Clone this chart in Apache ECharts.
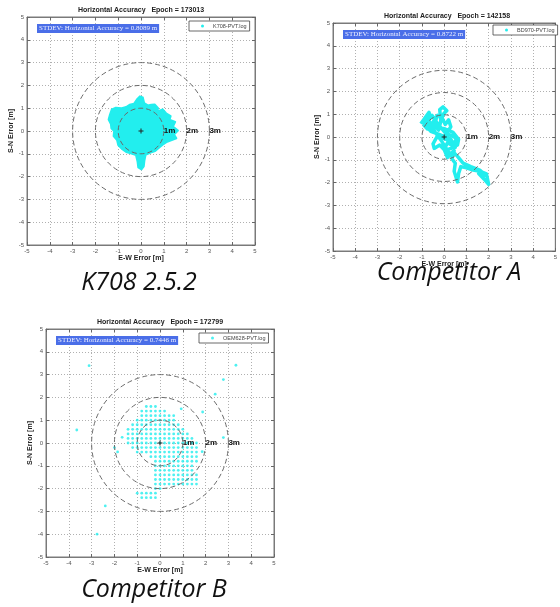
<!DOCTYPE html>
<html><head><meta charset="utf-8">
<script src="https://cdn.jsdelivr.net/npm/echarts/dist/echarts.min.js"></script>
<style>html,body{margin:0;padding:0;background:#fff}#c{width:560px;height:607px}</style>
</head><body><div id="c"></div><script>
// ---------- data ----------
const TICK_MIN = -5, TICK_MAX = 5, TICK_STEP = 1;
const RADII = [1, 2, 3];
const RADIUS_LABELS = ['1m', '2m', '3m'];
const TITLES = ['Horizontal Accuracy   Epoch = 173013', 'Horizontal Accuracy   Epoch = 142158', 'Horizontal Accuracy   Epoch = 172799'];
const STDEV_VALUES = ['0.8089', '0.8722', '0.7446'];
const LEGEND_NAMES = ['K708-PVT.log', 'BD970-PVT.log', 'OEM628-PVT.log'];
const CAPTIONS = ['K708 2.5.2', 'Competitor A', 'Competitor B'];
const X_NAME = 'E-W Error [m]';
const Y_NAME = 'S-N Error [m]';

// K708: outline of the dense point cloud (m)
const K708_X = [-0.05,0.08,0.14,0.3,0.45,0.6,0.75,0.7,0.95,1.1,1.3,1.25,1.5,1.4,1.62,1.45,1.55,1.35,1.15,0.95,0.8,0.62,0.42,0.2,0.15,0.12,0.02,-0.12,-0.15,-0.22,-0.45,-0.65,-0.82,-1.0,-1.05,-1.2,-1.18,-1.3,-1.32,-1.42,-1.36,-1.28,-1.1,-0.85,-0.65,-0.5,-0.3,-0.18];
const K708_Y = [1.52,1.47,1.22,1.12,1.15,1.16,1.0,0.85,0.95,0.78,0.65,0.5,0.4,0.2,0.02,-0.15,-0.32,-0.4,-0.47,-0.6,-0.72,-0.88,-0.95,-1.05,-1.3,-1.55,-1.68,-1.6,-1.35,-1.05,-0.98,-0.92,-0.8,-0.62,-0.4,-0.22,0.0,0.12,0.3,0.5,0.72,0.95,1.02,1.0,1.05,1.15,1.2,1.38];

// BD970: trajectory (m)
const BD970_X = [-1.05,-0.85,-0.68,-0.62,-0.8,-0.6,-0.45,-0.3,-0.45,-0.25,-0.15,-0.2,-0.05,0.12,0.0,-0.1,0.05,0.2,0.3,0.1,0.35,0.55,0.45,0.2,-0.05,-0.3,-0.5,-0.45,-0.2,0.05,0.3,0.6,0.65,0.4,0.05,-0.35,-0.75,-0.9,-0.7,-0.4,-0.1,0.25,0.45,0.35,0.5,0.45,0.6,0.65,0.75,1.0,1.3,1.6,1.9,1.95,2.0,1.8,1.55,1.9,1.6,1.2,0.85,0.6,0.4,0.15,0.0,0.15,0.5,0.3,-0.2,-0.6,-0.95,-0.55,-0.3,0.2];
const BD970_Y = [0.58,0.85,1.08,0.85,0.62,0.45,0.75,0.95,0.55,0.3,0.7,1.2,1.32,1.15,1.05,0.85,0.55,0.75,0.45,0.15,0.05,-0.05,-0.3,-0.15,-0.05,0.05,-0.3,-0.5,-0.35,-0.6,-0.5,-0.35,-0.1,0.2,0.35,0.45,0.35,0.5,0.75,0.2,-0.2,-0.75,-0.6,-0.95,-1.15,-1.5,-1.97,-1.6,-1.3,-1.35,-1.45,-1.5,-1.62,-1.85,-2.08,-1.85,-1.6,-1.7,-1.45,-1.3,-1.15,-0.85,-0.65,-0.9,-0.55,-0.25,-0.45,-0.1,0.1,0.25,0.65,0.95,0.6,0.0];

// OEM628: quantised cloud, one string per row; '#' marks a point.
const OEM_COL_X = [-1.4,-1.2,-1.0,-0.8,-0.6,-0.4,-0.2,0.0,0.2,0.4,0.6,0.8,1.0,1.2,1.4,1.6,1.8];
const OEM_ROW_Y = [1.6,1.4,1.2,1.0,0.8,0.6,0.4,0.2,0.0,-0.2,-0.4,-0.6,-0.8,-1.0,-1.2,-1.4,-1.6,-1.8,-2.0,-2.2,-2.4];
const OEM_ROWS = [
  '....###..........',
  '...######........',
  '...########......',
  '..#########......',
  '.###########.....',
  '#############....',
  '##############...',
  '###############..',
  '################.',
  '.###############.',
  '..##############.',
  '.....###########.',
  '......##########.',
  '......#########..',
  '......#########..',
  '......##########.',
  '......##########.',
  '......##########.',
  '......##.........',
  '..#####..........',
  '...####..........'
];
const OEM_OUT_X = [-3.11,-3.65,-2.4,-2.76,-2.0,-1.86,-1.66,3.33,2.78,2.42,1.87,0.93,2.78,1.85];
const OEM_OUT_Y = [3.39,0.57,-2.76,-4.0,-0.2,-0.39,0.25,3.41,2.78,2.14,1.36,1.5,0.24,-0.38];

// ---------- layout ----------
const CYAN = '#22eeee';
const FONT = '"Liberation Sans", Arial, sans-serif';
const SIZE = 228;
const PANELS = [
  {left: 27, top: 17, legendLeft: 189, legendTop: 21, cap: [139, 283]},
  {left: 333, top: 23, legendLeft: 493, legendTop: 25, cap: [449, 273]},
  {left: 46, top: 329, legendLeft: 199, legendTop: 333, cap: [154, 590]}
];

const grids = [], xAxes = [], yAxes = [], series = [], legends = [], graphics = [];
PANELS.forEach((p, i) => {
  grids.push({left: p.left, top: p.top, width: SIZE, height: SIZE, show: true,
    borderColor: '#7a7a7a', borderWidth: 1, backgroundColor: '#fff'});
  const common = {type: 'value', min: TICK_MIN, max: TICK_MAX, interval: TICK_STEP, gridIndex: i};
  const tick = {show: true, inside: true, length: 3, lineStyle: {color: '#666', width: 1}};
  const line = {show: true, onZero: false, lineStyle: {color: '#7a7a7a', width: 1}};
  const nameStyle = {fontSize: 7, fontWeight: 'bold', color: '#222', fontFamily: FONT};
  xAxes.push(Object.assign({}, common, {position: 'bottom', axisLine: line, axisTick: tick,
    axisLabel: {fontSize: 6, color: '#555', margin: 3, fontFamily: FONT},
    splitLine: {show: true, lineStyle: {color: '#b0b0b0', type: [1, 2], width: 1}},
    name: X_NAME, nameLocation: 'middle', nameGap: 10, nameTextStyle: nameStyle}));
  xAxes.push(Object.assign({}, common, {position: 'top', axisLine: line, axisTick: tick,
    axisLabel: {show: false}, splitLine: {show: false}}));
  yAxes.push(Object.assign({}, common, {position: 'left', axisLine: line, axisTick: tick,
    axisLabel: {fontSize: 6, color: '#555', margin: 3, fontFamily: FONT},
    splitLine: {show: true, lineStyle: {color: '#b0b0b0', type: [1, 2], width: 1}},
    name: Y_NAME, nameLocation: 'middle', nameGap: 9, nameRotate: 90, nameTextStyle: nameStyle}));
  yAxes.push(Object.assign({}, common, {position: 'right', axisLine: line, axisTick: tick,
    axisLabel: {show: false}, splitLine: {show: false}}));

  // reference circles, labels and centre cross
  series.push({type: 'custom', xAxisIndex: 2 * i, yAxisIndex: 2 * i, z: 5, silent: true,
    data: RADII.map((r, k) => [r, 0, k]),
    renderItem: (params, api) => {
      const c = api.coord([0, 0]);
      const e = api.coord([api.value(0), 0]);
      const k = api.value(2);
      const children = [
        {type: 'circle', shape: {cx: c[0], cy: c[1], r: e[0] - c[0]},
          style: {fill: 'none', stroke: '#6a6a6a', lineWidth: 1, lineDash: [5, 3]}},
        {type: 'text', x: e[0], y: c[1],
          style: {text: RADIUS_LABELS[k], font: 'bold 8px ' + FONT, fill: '#111', align: 'left', verticalAlign: 'middle'}}
      ];
      if (k === 0) {
        children.push({type: 'line', shape: {x1: c[0] - 2.5, y1: c[1], x2: c[0] + 2.5, y2: c[1]}, style: {stroke: '#222', lineWidth: 1}});
        children.push({type: 'line', shape: {x1: c[0], y1: c[1] - 2.5, x2: c[0], y2: c[1] + 2.5}, style: {stroke: '#222', lineWidth: 1}});
      }
      return {type: 'group', children};
    }});

  legends.push({data: [{name: LEGEND_NAMES[i], icon: 'circle'}], left: p.legendLeft, top: p.legendTop,
    itemWidth: 3, itemHeight: 3, selectedMode: false, padding: [2, 3, 2, 12],
    borderColor: '#444', borderWidth: 0.8, backgroundColor: '#fff', z: 20,
    textStyle: {fontSize: 5.5, color: '#444', fontFamily: FONT, padding: [0, 0, 0, 4]}});

  graphics.push({type: 'text', x: p.left + SIZE / 2, y: p.top - 7, z: 100,
    style: {text: TITLES[i], font: 'bold 7px ' + FONT, fill: '#222', align: 'center', verticalAlign: 'middle'}});
  graphics.push({type: 'text', x: p.left + 10, y: p.top + 7, z: 100,
    style: {text: 'STDEV: Horizontal Accuracy = ' + STDEV_VALUES[i] + ' m', font: '7px "Liberation Serif", serif',
      fill: '#eef0ff', backgroundColor: '#4a6ee8', padding: [1, 2], align: 'left', verticalAlign: 'top'}});
  graphics.push({type: 'text', x: p.cap[0], y: p.cap[1], z: 100,
    style: {text: CAPTIONS[i], font: 'italic 25px "Open Sans", sans-serif', fill: '#111', align: 'center', verticalAlign: 'middle'}});
});

// data series
series.push({name: LEGEND_NAMES[0], type: 'custom', xAxisIndex: 0, yAxisIndex: 0, z: 2,
  itemStyle: {color: CYAN}, data: [[0, 0]],
  renderItem: (params, api) => ({type: 'polygon',
    shape: {points: K708_X.map((x, j) => api.coord([x, K708_Y[j]]))},
    style: {fill: CYAN, stroke: CYAN, lineWidth: 2, lineJoin: 'round'}})});

series.push({name: LEGEND_NAMES[1], type: 'line', xAxisIndex: 2, yAxisIndex: 2, z: 2,
  data: BD970_X.map((x, j) => [x, BD970_Y[j]]), showSymbol: false, symbol: 'none',
  lineStyle: {color: CYAN, width: 3.5, join: 'round'}, itemStyle: {color: CYAN}});

const oemPts = [];
OEM_ROWS.forEach((row, r) => {
  for (let c = 0; c < row.length; c++) if (row[c] === '#') oemPts.push([OEM_COL_X[c], OEM_ROW_Y[r]]);
});
OEM_OUT_X.forEach((x, j) => oemPts.push([x, OEM_OUT_Y[j]]));
series.push({name: LEGEND_NAMES[2], type: 'scatter', xAxisIndex: 4, yAxisIndex: 4, z: 2,
  data: oemPts, symbol: 'circle', symbolSize: 2.8, itemStyle: {color: CYAN}});

const chart = echarts.init(document.getElementById('c'), null, {renderer: 'canvas'});
chart.setOption({animation: false, backgroundColor: '#fff', grid: grids, xAxis: xAxes, yAxis: yAxes,
  legend: legends, series: series, graphic: {elements: graphics}});
</script></body></html>
